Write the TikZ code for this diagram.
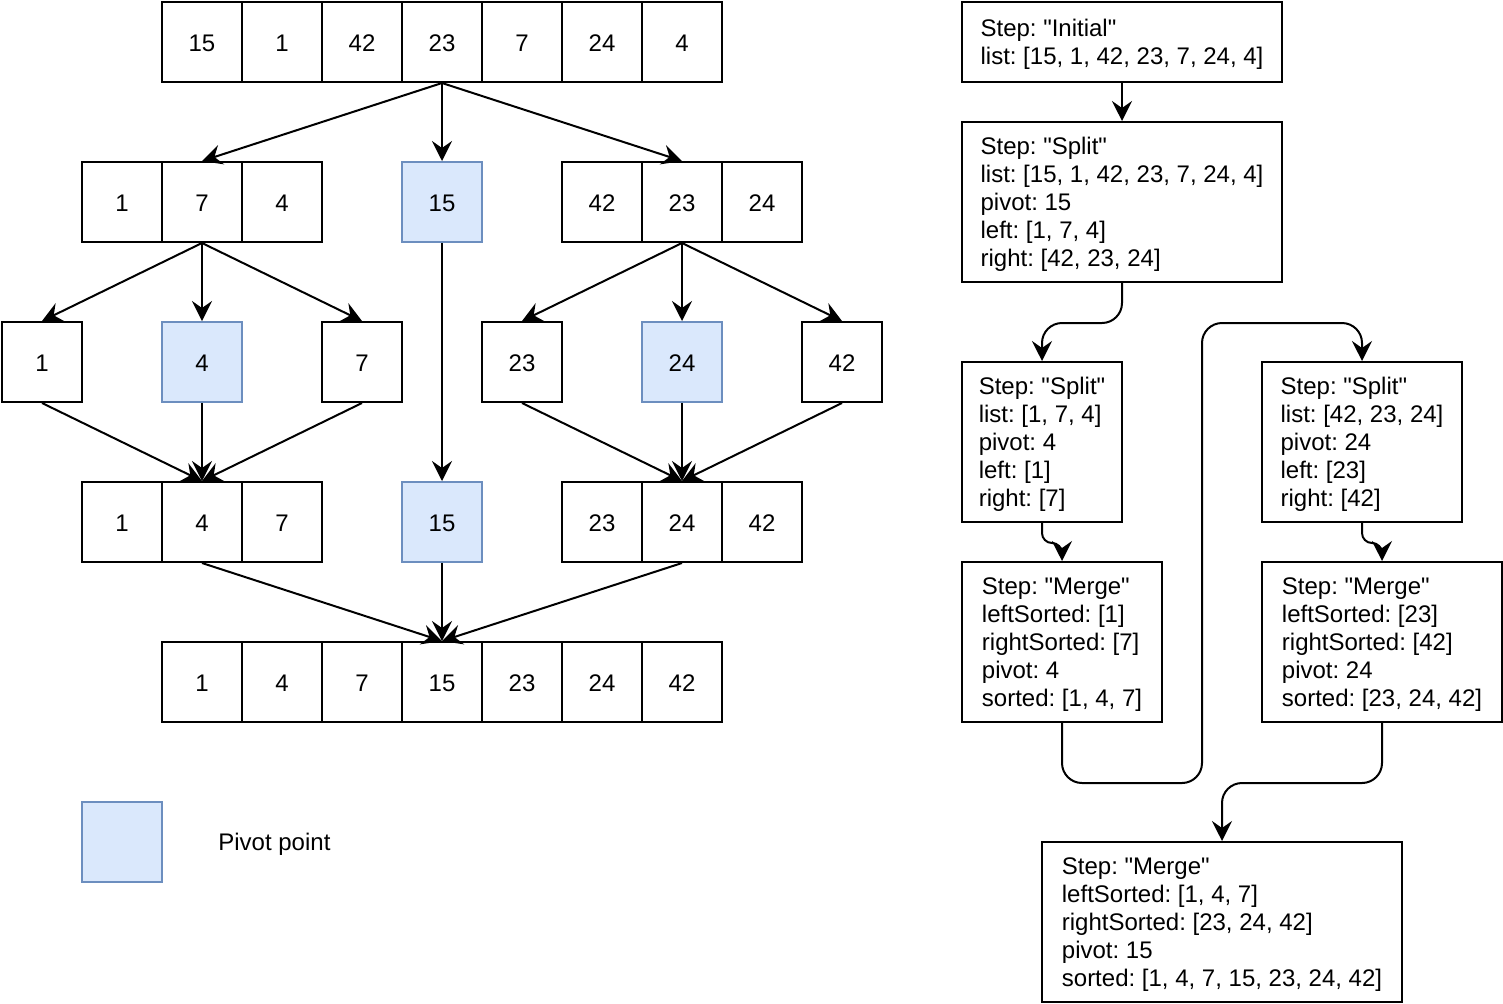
\documentclass[tikz,border=0pt]{standalone}
\usepackage{fontspec}
\setmainfont{Liberation Sans}[Ligatures=TeXOff]
\usepackage{xcolor}
\usetikzlibrary{arrows.meta}
\definecolor{pivotfill}{HTML}{DAE8FC}
\definecolor{pivotline}{HTML}{6C8EBF}
\frenchspacing

\begin{document}
\begin{tikzpicture}[x=0.5pt, y=-0.5pt,
  cell/.style={draw=black, line width=1pt, minimum size=40pt, inner sep=0pt, text height=9.6pt, font=\fontsize{12pt}{14pt}\selectfont},
  pivot/.style={cell, draw=pivotline, fill=pivotfill},
  stepbox/.style={draw=black, line width=1pt, align=left, inner xsep=3pt, minimum height=80pt, text depth=-3.5pt, font=\fontsize{12pt}{14pt}\selectfont\frenchspacing},
  link/.style={-{Stealth[length=10pt, width=10pt, inset=3.5pt]}, line width=1pt},
  elbow/.style={link, rounded corners=10pt}]
  \useasboundingbox (0,0) rectangle (1503,1003);
  % input list
  \node[cell] (a15) at (202,42) {15};
  \node[cell] (a1) at (282,42) {1};
  \node[cell] (a42) at (362,42) {42};
  \node[cell] (a23) at (442,42) {23};
  \node[cell] (a7) at (522,42) {7};
  \node[cell] (a24) at (602,42) {24};
  \node[cell] (a4) at (682,42) {4};
  % first split
  \node[cell] (b1) at (122,202) {1};
  \node[cell] (b7) at (202,202) {7};
  \node[cell] (b4) at (282,202) {4};
  \node[pivot] (b15) at (442,202) {15};
  \node[cell] (b42) at (602,202) {42};
  \node[cell] (b23) at (682,202) {23};
  \node[cell] (b24) at (762,202) {24};
  % second split
  \node[cell] (c1) at (42,362) {1};
  \node[pivot] (c4) at (202,362) {4};
  \node[cell] (c7) at (362,362) {7};
  \node[cell] (c23) at (522,362) {23};
  \node[pivot] (c24) at (682,362) {24};
  \node[cell] (c42) at (842,362) {42};
  % first merge
  \node[cell] (d1) at (122,522) {1};
  \node[cell] (d4) at (202,522) {4};
  \node[cell] (d7) at (282,522) {7};
  \node[pivot] (d15) at (442,522) {15};
  \node[cell] (d23) at (602,522) {23};
  \node[cell] (d24) at (682,522) {24};
  \node[cell] (d42) at (762,522) {42};
  % sorted list
  \node[cell] (e1) at (202,682) {1};
  \node[cell] (e4) at (282,682) {4};
  \node[cell] (e7) at (362,682) {7};
  \node[cell] (e15) at (442,682) {15};
  \node[cell] (e23) at (522,682) {23};
  \node[cell] (e24) at (602,682) {24};
  \node[cell] (e42) at (682,682) {42};
  % legend
  \node[pivot] (legend) at (122,842) {};
  \node[anchor=west, inner sep=0pt, font=\fontsize{12pt}{14pt}\selectfont] (legendtext) at (218,844) {Pivot point};
  % arrows
  \draw[link] (a23.south) -- (b7.north);
  \draw[link] (a23.south) -- (b15.north);
  \draw[link] (a23.south) -- (b23.north);
  \draw[link] (b7.south) -- (c1.north);
  \draw[link] (b7.south) -- (c4.north);
  \draw[link] (b7.south) -- (c7.north);
  \draw[link] (b23.south) -- (c23.north);
  \draw[link] (b23.south) -- (c24.north);
  \draw[link] (b23.south) -- (c42.north);
  \draw[link] (b15.south) -- (d15.north);
  \draw[link] (c1.south) -- (d4.north);
  \draw[link] (c4.south) -- (d4.north);
  \draw[link] (c7.south) -- (d4.north);
  \draw[link] (c23.south) -- (d24.north);
  \draw[link] (c24.south) -- (d24.north);
  \draw[link] (c42.south) -- (d24.north);
  \draw[link] (d4.south) -- (e15.north);
  \draw[link] (d15.south) -- (e15.north);
  \draw[link] (d24.south) -- (e15.north);
  % steps
  \node[stepbox, minimum width=160pt, minimum height=40pt] (initial) at (1122,42) {Step: "Initial"\\list: [15, 1, 42, 23, 7, 24, 4]};
  \node[stepbox, minimum width=160pt] (split) at (1122,202) {Step: "Split"\\list: [15, 1, 42, 23, 7, 24, 4]\\pivot: 15\\left: [1, 7, 4]\\right: [42, 23, 24]};
  \node[stepbox, minimum width=80pt] (splitL) at (1042,442) {Step: "Split"\\list: [1, 7, 4]\\pivot: 4\\left: [1]\\right: [7]};
  \node[stepbox, minimum width=100pt] (splitR) at (1362,442) {Step: "Split"\\list: [42, 23, 24]\\pivot: 24\\left: [23]\\right: [42]};
  \node[stepbox, minimum width=100pt] (mergeL) at (1062,642) {Step: "Merge"\\leftSorted: [1]\\rightSorted: [7]\\pivot: 4\\sorted: [1, 4, 7]};
  \node[stepbox, minimum width=120pt] (mergeR) at (1382,642) {Step: "Merge"\\leftSorted: [23]\\rightSorted: [42]\\pivot: 24\\sorted: [23, 24, 42]};
  \node[stepbox, minimum width=180pt] (merge) at (1222,922) {Step: "Merge"\\leftSorted: [1, 4, 7]\\rightSorted: [23, 24, 42]\\pivot: 15\\sorted: [1, 4, 7, 15, 23, 24, 42]};
  \draw[link] (initial.south) -- (split.north);
  \draw[elbow] (split.south) -- ++(0,40) -| (splitL.north);
  \draw[elbow, rounded corners=5pt] (splitL.south) -- ++(0,20) -| (mergeL.north);
  \draw[elbow, rounded corners=5pt] (splitR.south) -- ++(0,20) -| (mergeR.north);
  \draw[elbow] (mergeL.south) -- ++(0,60) -- ++(140,0) -- ++(0,-460) -| (splitR.north);
  \draw[elbow] (mergeR.south) -- ++(0,60) -| (merge.north);
\end{tikzpicture}
\end{document}
